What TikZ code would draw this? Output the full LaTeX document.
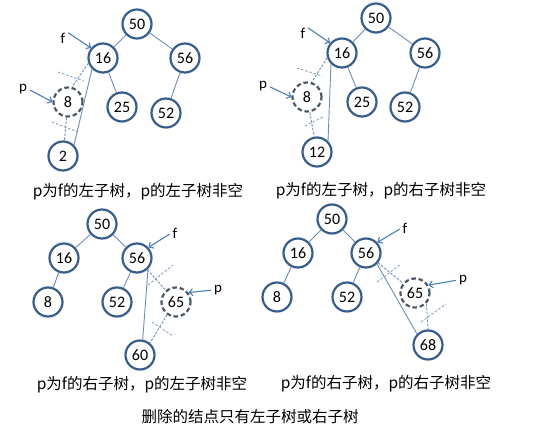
\documentclass[tikz,border=0pt]{standalone}
\usepackage{fontspec}
\setmainfont{Carlito}
\newfontfamily\cjk{Noto Sans CJK SC}
\usetikzlibrary{arrows.meta}
\definecolor{ring}{HTML}{385D8A}
\definecolor{dring}{HTML}{4A5868}
\definecolor{edgec}{HTML}{6F8EB6}
\definecolor{hatchc}{HTML}{8299B8}
\definecolor{arrowc}{HTML}{4F7DB5}
\begin{document}
\begin{tikzpicture}[x=1pt,y=-1pt,
  nd/.style={circle,draw=ring,line width=2.2pt,minimum size=29pt,inner sep=0pt,
    font=\fontsize{16}{16}\selectfont},
  dnd/.style={nd,draw=dring,dash pattern=on 4.5pt off 2.8pt},
  link/.style={draw=edgec,line width=0.9pt},
  dlink/.style={link,dash pattern=on 2.5pt off 1.5pt},
  cutmark/.style={draw=hatchc,line width=0.8pt,dash pattern=on 2.5pt off 1.8pt},
  ptr/.style={draw=arrowc,line width=1.1pt,shorten <=2pt,-{Straight Barb[length=3.5pt,width=7pt]}},
  lbl/.style={font=\fontsize{15}{15}\selectfont,inner sep=1pt},
  captext/.style={font=\cjk\fontsize{15.5}{16}\selectfont,inner sep=0pt}]
\useasboundingbox (0,0) rectangle (535,433);

% ---------- panel 1 ----------
\node[nd]  (a50) at (137,24)  {50};
\node[nd]  (a16) at (103,58)  {16};
\node[nd]  (a56) at (185,58)  {56};
\node[dnd] (a8)  at (68,102)  {8};
\node[nd]  (a25) at (122,107) {25};
\node[nd]  (a52) at (166,113) {52};
\node[nd]  (a2)  at (63,156)  {2};
\draw[link] (a50) -- (a16);
\draw[link] (a50) -- (a56);
\draw[link] (a16) -- (a25);
\draw[link] (a56) -- (a52);
\draw[dlink] (a16.200) -- (a8.75);
\draw[dlink] (a8) -- (a2);
\draw[link] (a16.south west) -- (a2.north east);
\draw[cutmark] (58,72) -- (84,81);
\draw[cutmark] (52,122) -- (78,132);
\node[lbl] (af) at (63,38) {f};
\node[lbl] (ap) at (23,89) {p};
\draw[ptr] (af.north east) -- (a16.140);
\draw[ptr] (ap.east) -- (a8.west);
\node[captext] (ac) at (138,192) {p为f的左子树，p的左子树非空};

% ---------- panel 2 ----------
\node[nd]  (b50) at (376,18)  {50};
\node[nd]  (b16) at (342,53)  {16};
\node[nd]  (b56) at (425,53)  {56};
\node[dnd] (b8)  at (307,97)  {8};
\node[nd]  (b25) at (362,102) {25};
\node[nd]  (b52) at (405,107) {52};
\node[nd]  (b12) at (317,152) {12};
\draw[link] (b50) -- (b16);
\draw[link] (b50) -- (b56);
\draw[link] (b16) -- (b25);
\draw[link] (b56) -- (b52);
\draw[dlink] (b16.198) -- (b8.72);
\draw[dlink] (b8) -- (b12);
\draw[link] (b16.south west) -- (b12.north east);
\draw[cutmark] (297,68) -- (322,76);
\draw[cutmark] (305,126) -- (323,117);
\node[lbl] (bf) at (303,33) {f};
\node[lbl] (bp) at (263,86) {p};
\draw[ptr] (bf.north east) -- (b16.140);
\draw[ptr] (bp.east) -- (b8.west);
\node[captext] (bc) at (381,191) {p为f的左子树，p的右子树非空};

% ---------- panel 3 ----------
\node[nd]  (c50) at (102,224) {50};
\node[nd]  (c16) at (64,258)  {16};
\node[nd]  (c56) at (137,258) {56};
\node[nd]  (c8)  at (48,302)  {8};
\node[nd]  (c52) at (117,302) {52};
\node[dnd] (c65) at (176,302) {65};
\node[nd]  (c60) at (140,355) {60};
\draw[link] (c50) -- (c16);
\draw[link] (c50) -- (c56);
\draw[link] (c16) -- (c8);
\draw[link] (c56) -- (c52);
\draw[dlink] (c56) -- (c65);
\draw[dlink] (c65.235) -- (c60.50);
\draw[link] (c56.south east) -- (c60.80);
\draw[cutmark] (148,285) -- (173,265);
\draw[cutmark] (152,322) -- (173,336);
\node[lbl] (cf) at (175,233) {f};
\node[lbl] (cp) at (218,290) {p};
\draw[ptr] (cf.west) -- (c56.43);
\draw[ptr] (cp.west) -- (c65.37);
\node[captext] (cc) at (142,385) {p为f的右子树，p的左子树非空};

% ---------- panel 4 ----------
\node[nd]  (d50) at (332,219) {50};
\node[nd]  (d16) at (298,253) {16};
\node[nd]  (d56) at (366,253) {56};
\node[nd]  (d8)  at (277,297) {8};
\node[nd]  (d52) at (347,297) {52};
\node[dnd] (d65) at (415,293) {65};
\node[nd]  (d68) at (428,345) {68};
\draw[link] (d50) -- (d16);
\draw[link] (d50) -- (d56);
\draw[link] (d16) -- (d8);
\draw[link] (d56) -- (d52);
\draw[dlink] (d56) -- (d65);
\draw[dlink] (d65.-43) -- (d68.north);
\draw[link] (d56.south east) -- (d68.north west);
\draw[cutmark] (377,282) -- (401,264);
\draw[cutmark] (421,322) -- (446,304);
\node[lbl] (df) at (405,228) {f};
\node[lbl] (dp) at (463,280) {p};
\draw[ptr] (df.west) -- (d56.43);
\draw[ptr] (dp.west) -- (d65.30);
\node[captext] (dc) at (386,384) {p为f的右子树，p的右子树非空};

\node[captext] (title) at (250,417) {删除的结点只有左子树或右子树};
\end{tikzpicture}
\end{document}
